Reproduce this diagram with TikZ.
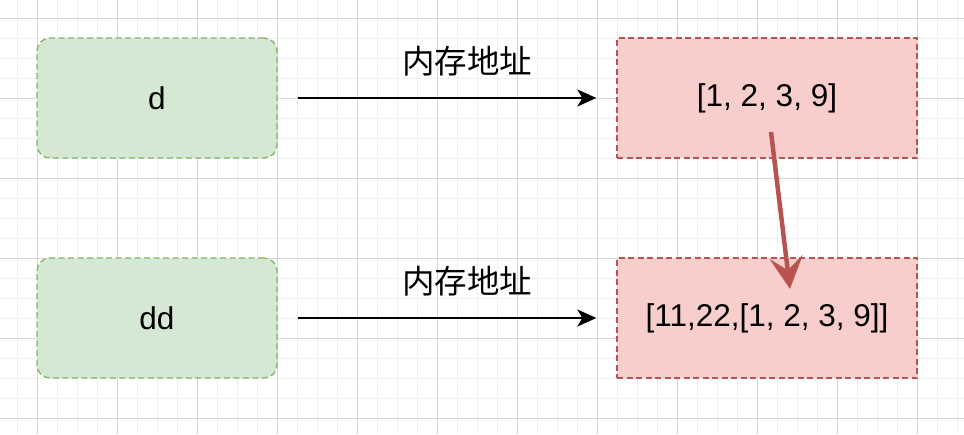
\documentclass[tikz,border=0pt]{standalone}
\usepackage{fontspec}
\setmainfont{Liberation Sans}
\newfontfamily\cjk{Noto Sans CJK SC}
\usetikzlibrary{arrows.meta,calc}
\definecolor{gminor}{HTML}{EFEFEF}
\definecolor{gmajor}{HTML}{D6D6D6}
\definecolor{gfill}{HTML}{D5E8D4}
\definecolor{gline}{HTML}{82B366}
\definecolor{rfill}{HTML}{F8CECC}
\definecolor{rline}{HTML}{B85450}
\tikzset{
  varbox/.style={draw=gline, fill=gfill, line width=1.3pt, dash pattern=on 6pt off 3.5pt,
    rounded corners=13pt, minimum width=240pt, minimum height=120pt, inner sep=0pt,
    font=\fontsize{31.5}{36}\selectfont},
  objbox/.style={draw=rline, fill=rfill, line width=1.3pt, dash pattern=on 6pt off 3.5pt,
    minimum width=300pt, minimum height=120pt, inner sep=0pt,
    font=\fontsize{31.5}{36}\selectfont},
  refarrow/.style={draw=black, line width=1.8pt, shorten <=20pt, shorten >=20pt,
    -{Stealth[length=19pt, width=17pt, inset=5pt]}},
  reflabel/.style={font=\cjk\fontsize{32.5}{36}\selectfont, inner sep=0pt},
  copyarrow/.style={draw=rline, line width=4.5pt,
    -{Stealth[length=32pt, width=33pt, inset=13pt]}}
}
\begin{document}
\begin{tikzpicture}[x=1pt, y=-1pt]
\useasboundingbox (0,0) rectangle (964,434);
\fill[white] (0,0) rectangle (964,434);
% grid
\foreach \x in {17,37,...,957} \draw[gminor, line width=1pt] (\x,0) -- (\x,434);
\foreach \y in {18,38,...,434} \draw[gminor, line width=1pt] (0,\y) -- (964,\y);
\foreach \x in {37,117,...,957} \draw[gmajor, line width=1pt] (\x,0) -- (\x,434);
\foreach \y in {18,98,...,434} \draw[gmajor, line width=1pt] (0,\y) -- (964,\y);
% nodes
\node[varbox] (d)  at (157,98)  {d};
\node[varbox] (dd) at (157,318) {dd};
\node[objbox] (a)  at (767,98)  {[1, 2, 3, 9]};
\node[objbox] (aa) at (767,318) {[11,22,[1, 2, 3, 9]]};
% connectors
\draw[refarrow] (d.east) -- node[reflabel, midway, xshift=20pt, yshift=37pt] (l1) {内存地址} (a.west);
\draw[refarrow] (dd.east) -- node[reflabel, midway, xshift=20pt, yshift=37pt] (l2) {内存地址} (aa.west);
\coordinate (cs) at ($(a.center)+(4,34)$);
\coordinate (ce) at ($(aa.center)+(23,-29)$);
\draw[copyarrow] (cs) -- (ce);
\end{tikzpicture}
\end{document}
